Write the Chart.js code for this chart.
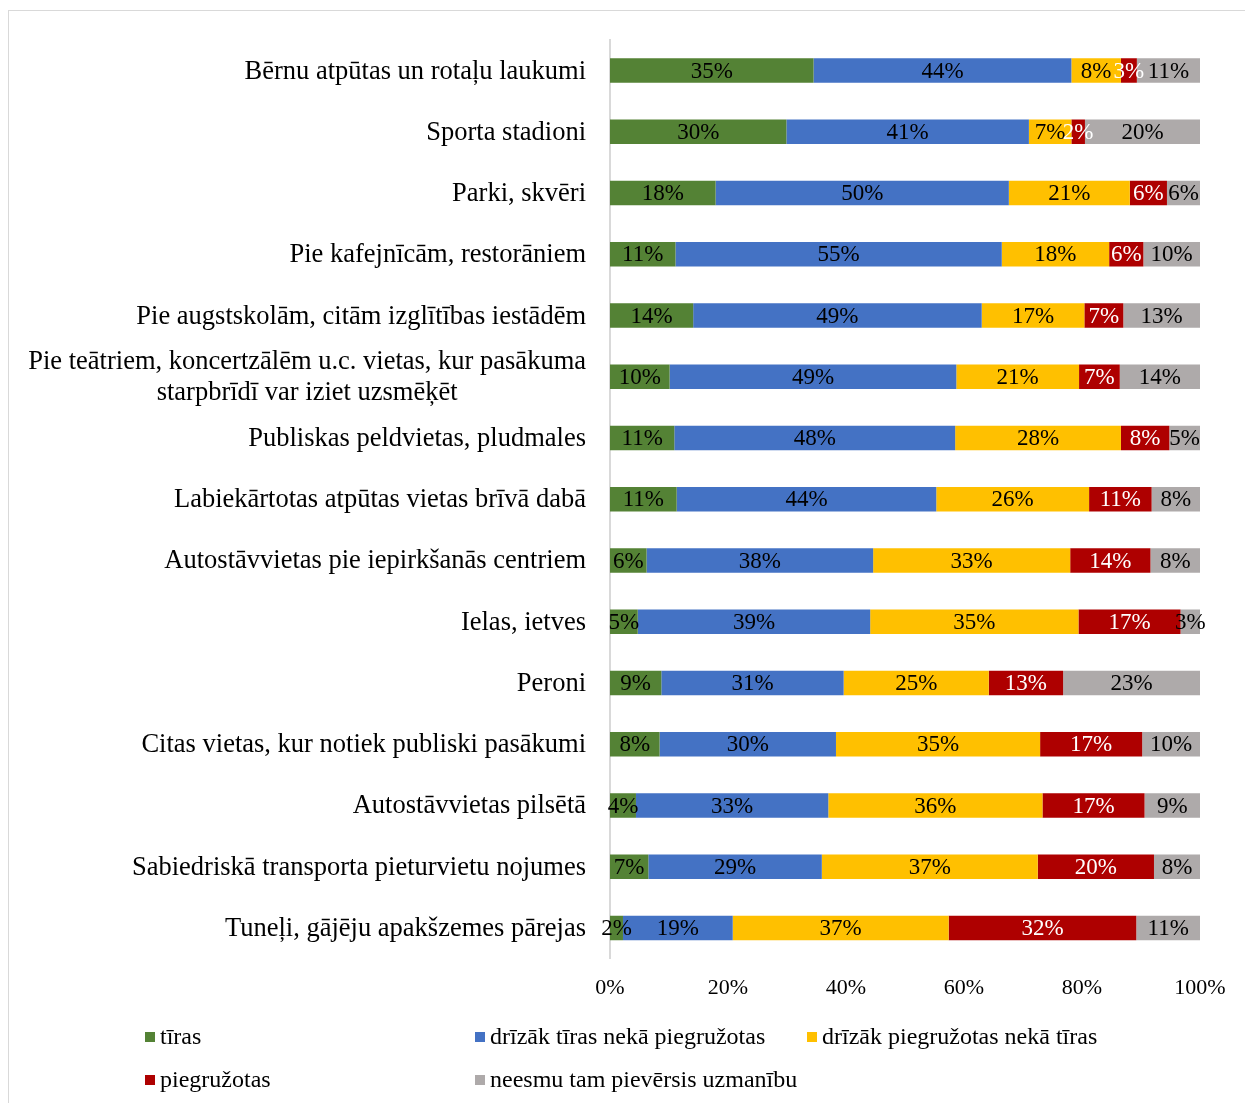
<!DOCTYPE html>
<html>
<head>
<meta charset="utf-8">
<script src="https://cdn.jsdelivr.net/npm/chart.js@4/dist/chart.umd.min.js"></script>
<style>
  body { margin: 0; background: #fff; }
  #box { position: absolute; left: 8px; top: 10px; width: 1240px; height: 1100px; border: 1px solid #d9d9d9; }
  canvas { display: block; }
</style>
</head>
<body>
<div id="box"><canvas id="bar-chart" width="1240" height="1100"></canvas></div>
<script>
const categories = [
    'Bērnu atpūtas un rotaļu laukumi',
    'Sporta stadioni',
    'Parki, skvēri',
    'Pie kafejnīcām, restorāniem',
    'Pie augstskolām, citām izglītības iestādēm',
    ['Pie teātriem, koncertzālēm u.c. vietas, kur pasākuma', 'starpbrīdī var iziet uzsmēķēt'],
    'Publiskas peldvietas, pludmales',
    'Labiekārtotas atpūtas vietas brīvā dabā',
    'Autostāvvietas pie iepirkšanās centriem',
    'Ielas, ietves',
    'Peroni',
    'Citas vietas, kur notiek publiski pasākumi',
    'Autostāvvietas pilsētā',
    'Sabiedriskā transporta pieturvietu nojumes',
    'Tuneļi, gājēju apakšzemes pārejas'
];
const seriesNames = [
    'tīras',
    'drīzāk tīras nekā piegružotas',
    'drīzāk piegružotas nekā tīras',
    'piegružotas',
    'neesmu tam pievērsis uzmanību'
];
const tiras = [34.5, 29.9, 17.9, 11.1, 14.1, 10.1, 10.9, 11.3, 6.2, 4.7, 8.7, 8.4, 4.4, 6.5, 2.2];
const drizakTiras = [43.7, 41.1, 49.7, 55.3, 48.9, 48.6, 47.6, 44.0, 38.4, 39.4, 30.9, 29.9, 32.6, 29.4, 18.6];
const drizakPiegruzotas = [8.4, 7.2, 20.5, 18.2, 17.4, 20.8, 28.1, 25.9, 33.4, 35.3, 24.6, 34.6, 36.3, 36.6, 36.6];
const piegruzotas = [2.7, 2.3, 6.3, 5.8, 6.6, 6.9, 8.2, 10.6, 13.6, 17.3, 12.6, 17.3, 17.3, 19.7, 31.8];
const neesmu = [10.7, 19.5, 5.6, 9.6, 13.0, 13.6, 5.2, 8.2, 8.4, 3.3, 23.2, 9.8, 9.4, 7.8, 10.8];
const xTicks = [0, 20, 40, 60, 80, 100];

const FONT = '"Liberation Serif", "Times New Roman", serif';

// data labels, category labels and legend drawn on the canvas
const drawPlugin = {
    id: 'drawPlugin',
    afterDatasetsDraw(chart) {
        const ctx = chart.ctx;
        ctx.save();
        ctx.font = '23px ' + FONT;
        ctx.textAlign = 'center';
        ctx.textBaseline = 'middle';
        chart.data.datasets.forEach((ds, i) => {
            const meta = chart.getDatasetMeta(i);
            meta.data.forEach((bar, j) => {
                ctx.fillStyle = ds.labelColor;
                ctx.fillText(Math.round(ds.data[j]) + '%', (bar.x + bar.base) / 2, bar.y + 1);
            });
        });

        // category labels
        const yScale = chart.scales.y;
        const right = chart.chartArea.left - 24;
        ctx.font = '26.5px ' + FONT;
        ctx.fillStyle = '#000';
        categories.forEach((c, i) => {
            const y = yScale.getPixelForTick(i);
            if (Array.isArray(c)) {
                const w = Math.max(...c.map(t => ctx.measureText(t).width));
                ctx.textAlign = 'center';
                c.forEach((t, k) => {
                    ctx.fillText(t, right - w / 2, y + 1 + (k - (c.length - 1) / 2) * 31);
                });
            } else {
                ctx.textAlign = 'right';
                ctx.fillText(c, right, y + 1);
            }
        });

        // legend
        const cols = [136, 466, 798];
        const rows = [1026, 1069];
        ctx.font = '24px ' + FONT;
        ctx.textAlign = 'left';
        chart.data.datasets.forEach((ds, i) => {
            const x = cols[i % 3];
            const y = rows[Math.floor(i / 3)];
            ctx.fillStyle = ds.backgroundColor;
            ctx.fillRect(x, y - 5, 10, 10);
            ctx.fillStyle = '#000';
            ctx.fillText(ds.label, x + 15, y + 1);
        });
        ctx.restore();
    }
};

new Chart(document.getElementById('bar-chart'), {
    type: 'bar',
    data: {
        labels: categories,
        datasets: [
            { label: seriesNames[0], data: tiras, backgroundColor: '#548235', labelColor: '#000' },
            { label: seriesNames[1], data: drizakTiras, backgroundColor: '#4472C4', labelColor: '#000' },
            { label: seriesNames[2], data: drizakPiegruzotas, backgroundColor: '#FFC000', labelColor: '#000' },
            { label: seriesNames[3], data: piegruzotas, backgroundColor: '#AE0000', labelColor: '#fff' },
            { label: seriesNames[4], data: neesmu, backgroundColor: '#AEAAAA', labelColor: '#000' }
        ]
    },
    options: {
        indexAxis: 'y',
        responsive: false,
        animation: false,
        categoryPercentage: 0.4,
        barPercentage: 1,
        layout: { padding: { left: 593, top: 29, right: 49, bottom: 102 } },
        plugins: {
            legend: { display: false },
            title: { display: false },
            tooltip: { enabled: false }
        },
        scales: {
            x: {
                stacked: true,
                min: 0,
                max: 100,
                afterBuildTicks: scale => { scale.ticks = xTicks.map(v => ({ value: v })); },
                grid: { display: false },
                border: { display: false },
                ticks: {
                    padding: 8,
                    color: '#000',
                    font: { family: FONT, size: 22 },
                    callback: v => v + '%'
                }
            },
            y: {
                stacked: true,
                grid: { display: false },
                border: { display: true, color: '#d9d9d9', width: 2 },
                ticks: { display: false }
            }
        }
    },
    plugins: [drawPlugin]
});
</script>
</body>
</html>
